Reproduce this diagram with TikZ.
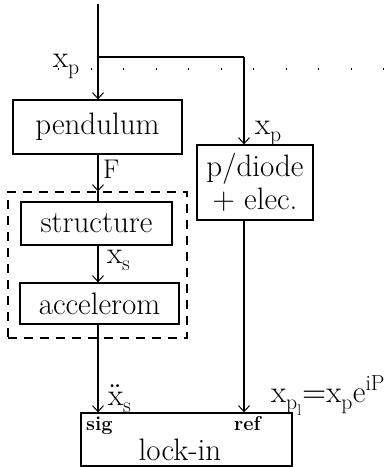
\documentclass[tikz,border=0pt]{standalone}
\usepackage{unicode-math}
\usetikzlibrary{arrows.meta,calc}
\begin{document}
\begin{tikzpicture}[x=1pt,y=-1pt,
  blk/.style={draw, line width=1.3pt, inner sep=0pt, font=\fontsize{31}{33}\selectfont, align=center},
  conn/.style={line width=1.1pt},
  arr/.style={conn, -{Straight Barb[length=6pt,width=11pt,line width=1pt]}},
  lbl/.style={inner sep=0pt, font=\fontsize{31}{33}\selectfont},
  slbl/.style={inner sep=0pt, font=\fontsize{20}{22}\selectfont\bfseries}]
\useasboundingbox (0,0) rectangle (391,467);
% blocks
\node[blk, minimum width=169pt, minimum height=54pt] (pend) at (97.5,127) {pendulum};
\node[blk, minimum width=116pt, minimum height=75pt] (pd) at (255,182.5) {p/diode\\+ elec.};
\node[draw, line width=1.2pt, dash pattern=on 9pt off 7pt, minimum width=179pt, minimum height=146pt, inner sep=0pt] (grp) at (97.5,265) {};
\node[blk, minimum width=151pt, minimum height=43pt] (str) at (96.5,223.5) {structure};
\node[blk, minimum width=159pt, minimum height=41pt] (acc) at (99.5,303.5) {accelerom};
\node[blk, minimum width=211pt, minimum height=53pt] (lock) at (186.5,439.5) {};
\node[lbl, anchor=base] (lockt) at (180,460) {lock-in};
\node[slbl, anchor=base west] (sig) at (86,430) {sig};
\node[slbl, anchor=base west] (ref) at (234,430) {ref};
% coordinates
\coordinate (in) at (98,4);
\coordinate (br) at (98,57);
\coordinate (rt) at (244,57);
\coordinate (d0) at (58,69);
\coordinate (d1) at (391,69);
% connectors
\draw[line width=1.2pt, dash pattern=on 1.2pt off 31.3pt] (d0) -- (d1);
\draw[arr] (in) -- (pend.north -| in);
\draw[conn] (br) -- (rt);
\draw[arr] (rt) -- (rt |- pd.north);
\draw[arr] (pend.south -| in) -- (grp.north -| in);
\draw[conn] (grp.north -| in) -- (str.north -| in);
\draw[arr] (str.south -| in) -- (acc.north -| in);
\draw[arr] (acc.south -| in) -- (lock.north -| in);
\draw[arr] (pd.south -| rt) -- (lock.north -| rt);
% labels
\node[lbl, anchor=base west] (lxp1) at (53,67) {$\mathrm{x_p}$};
\node[lbl, anchor=base west] (lxp2) at (255,134) {$\mathrm{x_p}$};
\node[lbl, anchor=base west, font=\fontsize{27}{29}\selectfont] (lF) at (103,178) {F};
\node[lbl, anchor=base west] (lxs) at (107,263) {$\mathrm{x_s}$};
\node[lbl, anchor=base west] (lxdd) at (108,405) {$\ddot{\mathrm{x}}_\mathrm{s}$};
\node[lbl, anchor=base west] (lform) at (271,402) {$\mathrm{x_{p_l}{=}x_pe^{iP}}$};
\end{tikzpicture}
\end{document}
